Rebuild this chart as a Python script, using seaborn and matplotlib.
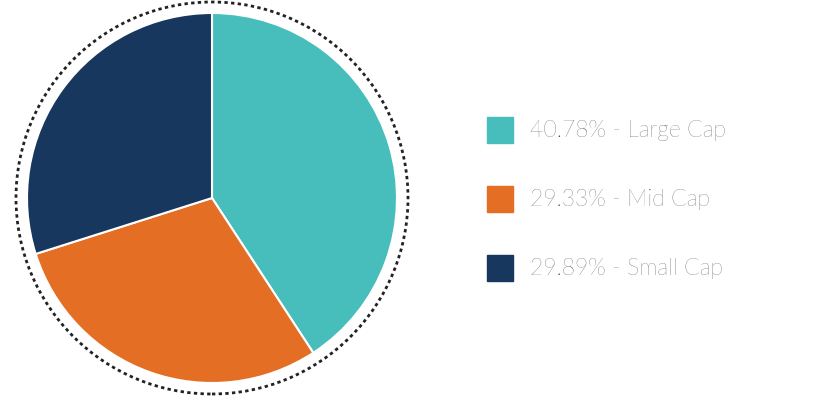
import matplotlib
matplotlib.use("Agg")
import matplotlib.pyplot as plt
import seaborn as sns
from matplotlib.patches import Circle, Rectangle

sns.set_theme(style="white")
plt.rcParams['font.family'] = ['Lato', 'DejaVu Sans']

categories = ["Large Cap", "Mid Cap", "Small Cap"]
shares = [40.78, 29.33, 29.89]
colors = ["#47bdbc", "#e56e25", "#17375e"]

fig = plt.figure(figsize=(8.17, 4.12), dpi=100)
ax = fig.add_axes([0, 0, 1, 1])
ax.set_xlim(0, 817)
ax.set_ylim(0, 412)
ax.set_aspect("equal")
ax.axis("off")

ax.pie(shares, colors=colors, startangle=90, counterclock=False,
       center=(212, 214), radius=185,
       wedgeprops=dict(edgecolor="white", linewidth=1.5))
ax.add_patch(Circle((212, 214), 196, fill=False, edgecolor="#222222",
                    linewidth=2, linestyle=(0, (1.2, 1.2))))
ax.set_xlim(0, 817)
ax.set_ylim(0, 412)

for i, (cat, val, col) in enumerate(zip(categories, shares, colors)):
    y = 282 - i * 69
    ax.add_patch(Rectangle((487, y - 13), 26, 26, color=col))
    ax.text(530, y, f"{val:.2f}% - {cat}", fontsize=16.5, color="#333333",
            va="center", ha="left", fontweight="light")

fig.savefig("out.png", dpi=100)
